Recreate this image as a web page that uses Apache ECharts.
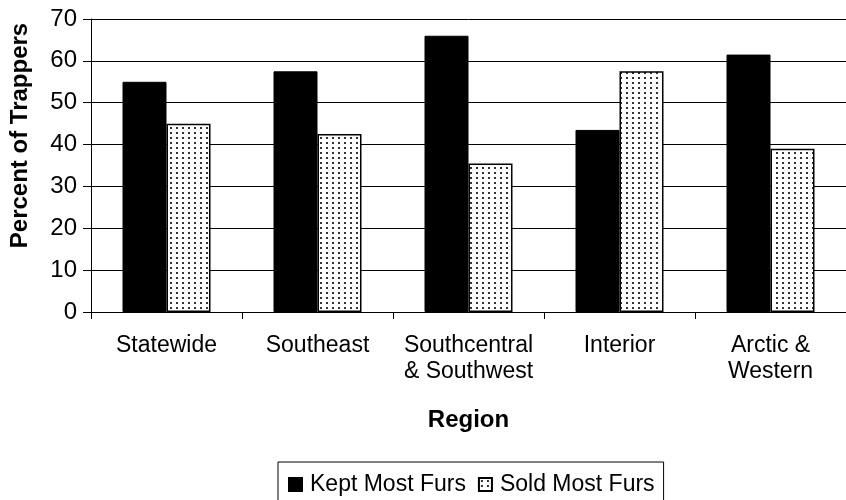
<!DOCTYPE html>
<html><head><meta charset="utf-8">
<script src="https://cdn.jsdelivr.net/npm/echarts@6/dist/echarts.min.js"></script>
<style>html,body{margin:0;padding:0;background:#fff}#c{width:846px;height:500px}</style>
</head><body><div id="c"></div>
<script>
const categories = ['Statewide', 'Southeast', 'Southcentral\n& Southwest', 'Interior', 'Arctic &\nWestern'];
const keptMostFurs = [55, 57.5, 66, 43.5, 61.5];
const soldMostFurs = [45, 42.5, 35.5, 57.5, 39];
const yTicks = [0, 10, 20, 30, 40, 50, 60, 70];

const tile = document.createElement('canvas');
tile.width = 6; tile.height = 5;
const tctx = tile.getContext('2d');
tctx.fillStyle = '#fff'; tctx.fillRect(0, 0, 6, 5);
tctx.fillStyle = '#333'; tctx.fillRect(2, 2, 2, 2);

const chart = echarts.init(document.getElementById('c'), null, {renderer: 'canvas'});
const font = 'Liberation Sans, Arial, sans-serif';
chart.setOption({
  animation: false,
  textStyle: {fontFamily: font, color: '#000'},
  grid: {left: 90, top: 19, width: 767, height: 293, containLabel: false},
  legend: {
    data: ['Kept Most Furs', 'Sold Most Furs'],
    left: 278, top: 462,
    borderColor: '#000', borderWidth: 1, borderRadius: 0,
    padding: [11, 9, 14, 10],
    icon: 'rect',
    itemWidth: 13, itemHeight: 13, itemGap: 12,
    textStyle: {fontSize: 23, color: '#000', fontFamily: font, padding: [0, 0, 0, 3]}
  },
  xAxis: {
    type: 'category',
    data: categories,
    name: 'Region', nameLocation: 'middle', nameGap: 96,
    nameTextStyle: {fontSize: 24, fontWeight: 'bold', color: '#000', fontFamily: font},
    axisLine: {lineStyle: {color: '#000', width: 1}},
    axisTick: {show: true, length: 7, lineStyle: {color: '#000'}},
    axisLabel: {fontSize: 23, color: '#000', lineHeight: 26, margin: 21, fontFamily: font, interval: 0}
  },
  yAxis: {
    type: 'value', min: yTicks[0], max: yTicks[yTicks.length - 1], interval: 10,
    name: 'Percent of Trappers', nameLocation: 'middle', nameGap: 59,
    nameTextStyle: {fontSize: 24, fontWeight: 'bold', color: '#000', fontFamily: font, padding: [0, 0, 0, 60]},
    axisLine: {show: true, lineStyle: {color: '#000', width: 1}},
    axisTick: {show: true, length: 8, lineStyle: {color: '#000'}},
    axisLabel: {fontSize: 24, color: '#000', margin: 14, fontFamily: font},
    splitLine: {show: true, lineStyle: {color: '#000', width: 1}}
  },
  series: [
    {
      name: 'Kept Most Furs', type: 'bar', data: keptMostFurs,
      barWidth: 44, barGap: '0%',
      itemStyle: {color: '#000', borderColor: '#000', borderWidth: 1}
    },
    {
      name: 'Sold Most Furs', type: 'bar', data: soldMostFurs,
      barWidth: 44, barGap: '0%',
      itemStyle: {color: {image: tile, repeat: 'repeat'}, borderColor: '#000', borderWidth: 1.5}
    }
  ]
});
</script></body></html>
